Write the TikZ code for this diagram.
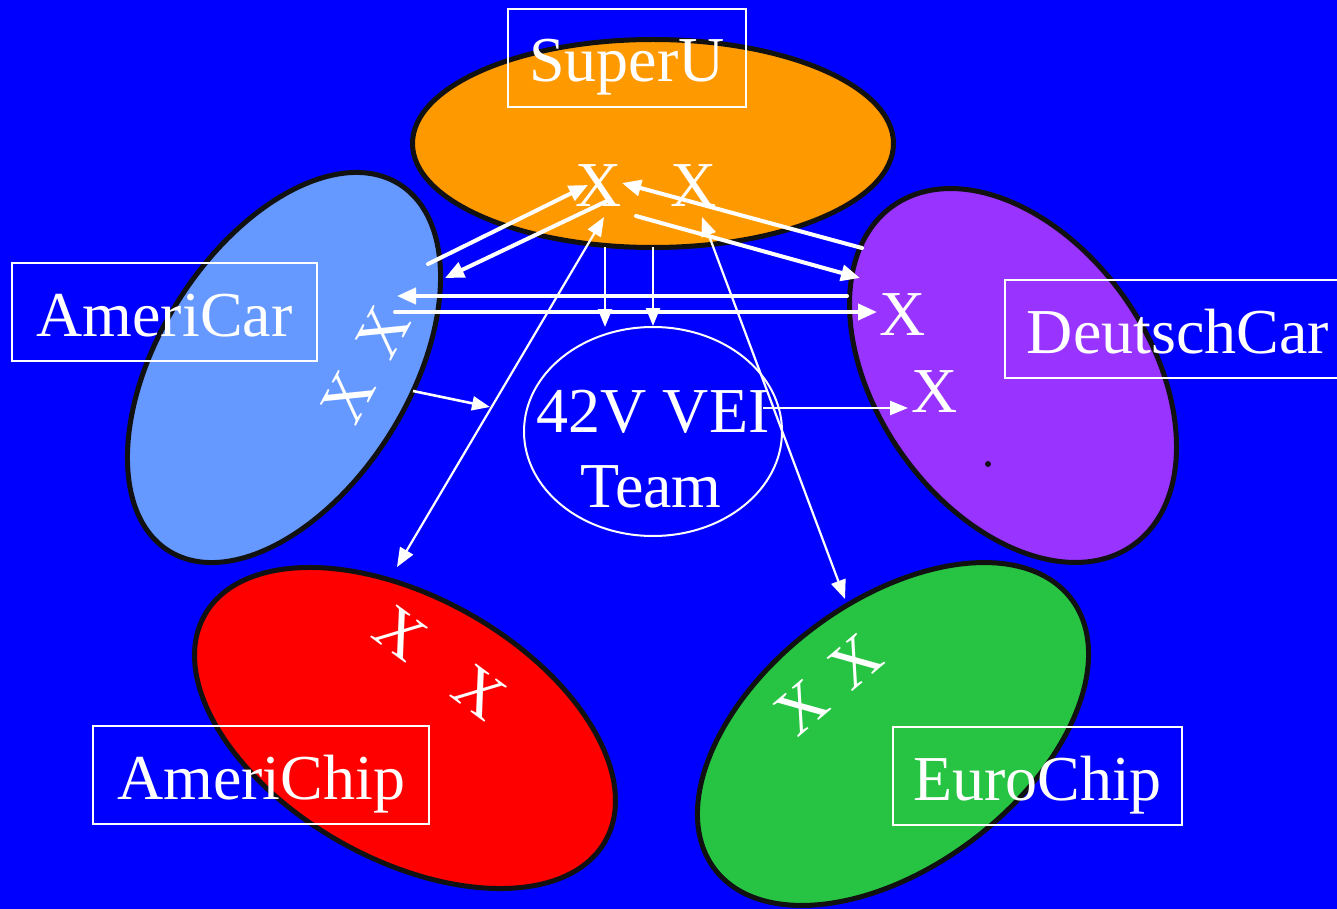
\documentclass[tikz,border=0pt]{standalone}
\usepackage{fontspec}
\setmainfont{Liberation Serif}
\usetikzlibrary{arrows.meta,shapes.geometric}

\definecolor{bgblue}{HTML}{0000FF}
\definecolor{superu}{HTML}{FF9900}
\definecolor{americar}{HTML}{6699FF}
\definecolor{deutschcar}{HTML}{9933FF}
\definecolor{americhip}{HTML}{FF0000}
\definecolor{eurochip}{HTML}{26C442}
\definecolor{rim}{HTML}{111111}

\begin{document}
\begin{tikzpicture}[x=1pt,y=-1pt,
  blob/.style={fill=#1, draw=rim, line width=5pt},
  bigtext/.style={text=white, font=\fontsize{64}{75}\selectfont},
  tag/.style={bigtext, draw=white, line width=1.6pt,
    text height=73pt, text depth=25pt, inner sep=0pt, anchor=base},
  xmark/.style={bigtext, text height=42pt, text depth=0pt, inner sep=0pt},
  link/.style={draw=white, line width=4pt, line cap=round,
    -{Triangle[length=19pt,width=16pt]}},
  slimlink/.style={draw=white, line width=2.6pt,
    -{Triangle[length=18pt,width=14pt]}},
  twoway/.style={draw=white, line width=2.2pt,
    {Triangle[length=19pt,width=15pt]}-{Triangle[length=19pt,width=15pt]}},
]
\useasboundingbox (0,0) rectangle (1337,909);
\clip (0,0) rectangle (1337,909);
\fill[bgblue] (0,0) rectangle (1337,909);

% partner ellipses
\draw[blob=superu] (653,143.5) ellipse [x radius=240.5pt, y radius=104pt];
\draw[blob=americar, rotate around={57.8:(284,367.5)}]
  (284,367.5) ellipse [x radius=216.6pt, y radius=125pt];
\draw[blob=deutschcar, rotate around={-54.7:(1013,375.5)}]
  (1013,375.5) ellipse [x radius=207.8pt, y radius=136pt];
\draw[blob=americhip, rotate around={-29.4:(405,728)}]
  (405,728) ellipse [x radius=230pt, y radius=131pt];
\draw[blob=eurochip, rotate around={37.1:(893,734)}]
  (893,734) ellipse [x radius=223.7pt, y radius=132.6pt];
\fill[rim] (988,464) circle (3pt);

% central team
\node[draw=white, line width=2pt, ellipse, minimum width=258pt,
  minimum height=209pt, inner sep=0pt] (team) at (653,431.5) {};
\node[bigtext, inner sep=0pt, anchor=base] (team-l1) at (653,432) {42V VEI};
\node[bigtext, inner sep=0pt, anchor=base] (team-l2) at (651,507) {Team};

% name tags
\node[tag, minimum width=238pt] (tag-superu) at (627,82) {SuperU};
\node[tag, minimum width=305pt] (tag-americar) at (164.5,336) {AmeriCar};
\node[tag, minimum width=346pt] (tag-deutschcar) at (1178,353) {DeutschCar};
\node[tag, minimum width=336pt] (tag-americhip) at (261,799) {AmeriChip};
\node[tag, minimum width=289pt] (tag-eurochip) at (1037.5,800) {EuroChip};

% X marks
\node[xmark] (su-x1) at (599,186) {X};
\node[xmark] (su-x2) at (693.5,186) {X};
\node[xmark] (dc-x1) at (903,314) {X};
\node[xmark] (dc-x2) at (935,391) {X};
\node[xmark, rotate=61.7] (ac-xx) at (365.5,364.5) {X\hspace{27.6pt}X};
\node[xmark, rotate=-36.4] (ach-xx) at (440,662.5) {X\hspace{53pt}X};
\node[xmark, rotate=40.3] (ec-xx) at (828.5,684.5) {X\hspace{24pt}X};

% arrow end points
\coordinate (ac-out) at (428,264);
\coordinate (su-in-l) at (588,185);
\coordinate (su-out-l) at (607,201);
\coordinate (ac-in) at (445,278);
\coordinate (dc-out) at (862,248);
\coordinate (su-in-r) at (622,183);
\coordinate (su-out-r) at (636,216);
\coordinate (dc-in) at (860,278);
\coordinate (dc-row1) at (847,296);
\coordinate (ac-row1) at (397,296);
\coordinate (ac-row2) at (395,312);
\coordinate (dc-row2) at (877,312);
\coordinate (su-down1) at (605,247);
\coordinate (team-in1) at (605,327);
\coordinate (su-down2) at (653,247);
\coordinate (ach-end) at (397,567);
\coordinate (su-x1-low) at (604,217);
\coordinate (su-x2-low) at (702,217);
\coordinate (ec-end) at (845,599);
\coordinate (ac-side) at (413,391);
\coordinate (team-left) at (490,407);
\coordinate (team-right) at (763,408);
\coordinate (dc-x2-in) at (908,408);

% connectors
\draw[link] (ac-out) -- (su-in-l);
\draw[link] (su-out-l) -- (ac-in);
\draw[link] (dc-out) -- (su-in-r);
\draw[link] (su-out-r) -- (dc-in);
\draw[link] (dc-row1) -- (ac-row1);
\draw[link] (ac-row2) -- (dc-row2);
\draw[slimlink] (su-down1) -- (team-in1);
\draw[slimlink] (su-down2) -- (team.north);
\draw[twoway] (ach-end) -- (su-x1-low);
\draw[twoway] (su-x2-low) -- (ec-end);
\draw[slimlink] (ac-side) -- (team-left);
\draw[slimlink] (team-right) -- (dc-x2-in);
\end{tikzpicture}
\end{document}
